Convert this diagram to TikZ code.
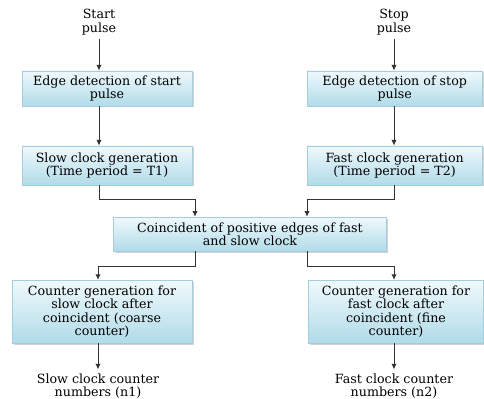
\documentclass[tikz,border=0pt]{standalone}
\usepackage{fontspec}
\setmainfont{DejaVu Serif}
\usepackage{tikz}
\usetikzlibrary{arrows.meta,positioning,calc,shadows}

\definecolor{boxtop}{RGB}{240,249,252}
\definecolor{boxbot}{RGB}{176,219,233}
\definecolor{boxline}{RGB}{165,205,220}

\begin{document}
\begin{tikzpicture}[
   every node/.style={font=\fontsize{10.8}{11.3}\selectfont,text=black},
   blk/.style={draw=boxline,top color=boxtop,bottom color=boxbot,align=center,
               inner sep=2pt,minimum height=1.05cm,
               drop shadow={shadow xshift=1.4pt,shadow yshift=-1.4pt,fill=black!35}},
   txt/.style={align=center},
   pipe/.style={line width=0.85pt,black!80,-{Latex[length=1.7mm,width=1.6mm]}}
]
\useasboundingbox (0,0) rectangle (14.52,-11.94);

% =========== Start side ============
\node[txt] (start) at (2.97,-0.66) {Start\\pulse};
\node[blk,minimum width=5.1cm] (edgeA) at (3.21,-2.65) {Edge detection of start\\pulse};
\node[blk,minimum width=5.1cm,minimum height=1.17cm] (slow) at (3.21,-4.96)
   {Slow clock generation\\(Time period = T1)};

\draw[pipe] (start) -- (edgeA.north -| start);
\draw[pipe] (edgeA.south -| start) -- (slow.north -| start);

% =========== Stop side ============
\node[txt] (stop) at (11.82,-0.66) {Stop\\pulse};
\node[blk,minimum width=5.25cm] (edgeB) at (11.84,-2.65) {Edge detection of stop\\pulse};
\node[blk,minimum width=5.25cm,minimum height=1.17cm] (fast) at (11.84,-4.96)
   {Fast clock generation\\(Time period = T2)};

\draw[pipe] (stop) -- (edgeB.north -| stop);
\draw[pipe] (edgeB.south -| stop) -- (fast.north -| stop);

% =========== Coincidence ============
\node[blk,minimum width=8.2cm,minimum height=1.02cm] (coin) at (7.5,-7.02)
   {Coincident of positive edges of fast\\and slow clock};

\draw[pipe] (slow.south -| start) -- ++(0,-0.42) -| ($(coin.north)+(-1.65,0)$);
\draw[pipe] (fast.south -| stop) -- ++(0,-0.42) -| ($(coin.north)+(1.71,0)$);

% =========== Counters ============
\node[blk,minimum width=5.4cm,minimum height=1.89cm] (cntA) at (3.06,-9.35)
   {Counter generation for\\slow clock after\\coincident (coarse\\counter)};
\node[blk,minimum width=5.25cm,minimum height=1.89cm] (cntB) at (11.88,-9.35)
   {Counter generation for\\fast clock after\\coincident (fine\\counter)};

\node[txt] (outA) at (2.94,-11.58) {Slow clock counter\\numbers (n1)};
\node[txt] (outB) at (11.82,-11.58) {Fast clock counter\\numbers (n2)};

\draw[pipe] ($(coin.south)+(-1.65,0)$) -- ++(0,-0.45) -| (cntA.north -| outA);
\draw[pipe] ($(coin.south)+(1.71,0)$) -- ++(0,-0.45) -| (cntB.north -| outB);

\draw[pipe] (cntA.south -| outA) -- (outA);
\draw[pipe] (cntB.south -| outB) -- (outB);

\end{tikzpicture}
\end{document}
